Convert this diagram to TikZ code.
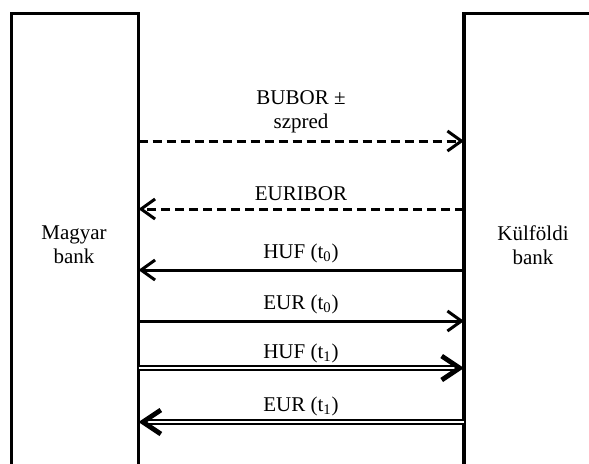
\documentclass[tikz,border=0pt]{standalone}
\usepackage{fontspec}
\setmainfont{Liberation Serif}
\usetikzlibrary{arrows.meta}
\begin{document}
\begin{tikzpicture}[x=0.5pt,y=-0.5pt]
\tikzstyle{flow}=[line width=1.5pt,-{Straight Barb[length=7pt,width=10pt,line width=1.5pt]}]
\tikzstyle{rate}=[flow,dash pattern=on 4.5pt off 2.5pt]
\tikzstyle{swap}=[line width=1.1pt,double,double distance=1pt,-{Straight Barb[length=9pt,width=12pt,line width=2.4pt]}]
\tikzstyle{lbl}=[font=\fontsize{10.5}{12}\selectfont,align=center,inner sep=0pt]
\useasboundingbox (0,0) rectangle (589,463);
\clip (0,0) rectangle (589,463);
% the two banks
\draw[line width=1.7pt] (11.5,480) -- (11.5,13.5) -- (138.5,13.5) -- (138.5,480);
\draw[line width=1.7pt] (464,480) -- (464,13.5) -- (600,13.5);
\node[lbl] (magyar) at (74,245) {Magyar\\bank};
\node[lbl] (kulfoldi) at (533,245) {Külföldi\\bank};
\foreach \i/\y in {1/141,2/209,3/270,4/321,5/368,6/422} {
  \coordinate (m\i) at (138.5,\y);
  \coordinate (k\i) at (464,\y);
}
% interest payments
\node[lbl] (bubor) at (301,112) {BUBOR ±\\szpred};
\draw[rate] (m1) -- (k1);
\node[lbl,anchor=base] (euribor) at (301,200) {EURIBOR};
\draw[rate] (k2) -- (m2);
% principal at t0 and t1
\node[lbl,anchor=base] (huf0) at (301,258) {HUF (t\textsubscript{0})};
\draw[flow] (k3) -- (m3);
\node[lbl,anchor=base] (eur0) at (301,309) {EUR (t\textsubscript{0})};
\draw[flow] (m4) -- (k4);
\node[lbl,anchor=base] (huf1) at (301,358) {HUF (t\textsubscript{1})};
\draw[swap] (m5) -- (k5);
\node[lbl,anchor=base] (eur1) at (301,411) {EUR (t\textsubscript{1})};
\draw[swap] (k6) -- (m6);
\end{tikzpicture}
\end{document}
